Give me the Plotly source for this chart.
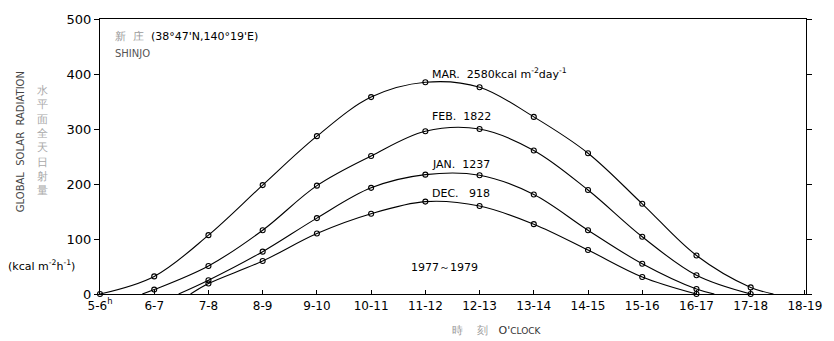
import plotly.graph_objects as go

# ---- data ----
hour_labels = ["5-6<sup>h</sup>", "6-7", "7-8", "8-9", "9-10", "10-11", "11-12",
               "12-13", "13-14", "14-15", "15-16", "16-17", "17-18", "18-19"]
hour_pos = list(range(14))

mar_x = [0, 1, 2, 3, 4, 5, 6, 7, 8, 9, 10, 11, 12]
mar_y = [0, 32, 107, 198, 287, 358, 385, 376, 322, 256, 164, 70, 12]
mar_end_x = [12.42]

feb_x = [1, 2, 3, 4, 5, 6, 7, 8, 9, 10, 11, 12]
feb_y = [8, 51, 116, 197, 251, 296, 300, 261, 189, 104, 34, 0]
feb_start_x = [0.78]

jan_x = [2, 3, 4, 5, 6, 7, 8, 9, 10, 11]
jan_y = [25, 77, 138, 193, 217, 216, 181, 116, 55, 9]
jan_start_x = [1.45]
jan_end_x = [11.33]

dec_x = [2, 3, 4, 5, 6, 7, 8, 9, 10, 11]
dec_y = [19, 60, 110, 146, 168, 160, 127, 80, 31, 0]
dec_start_x = [1.67]

month_labels = ["MAR.  2580kcal m<sup>-2</sup>day<sup>-1</sup>", "FEB.  1822",
                "JAN.  1237", "DEC.   918"]
month_label_y = [401, 323, 235, 183]

FONT = "DejaVu Sans"

fig = go.Figure()

def add_curve(xs, ys, start=None, end=None):
    lx = list(xs)
    ly = list(ys)
    if start:
        lx = start + lx
        ly = [0] + ly
    if end:
        lx = lx + end
        ly = ly + [0]
    fig.add_trace(go.Scatter(x=lx, y=ly, mode="lines",
                             line=dict(color="black", width=1.1, shape="spline", smoothing=1.0),
                             hoverinfo="skip", showlegend=False))
    fig.add_trace(go.Scatter(x=xs, y=ys, mode="markers",
                             marker=dict(symbol="circle-open", size=5, color="black",
                                         line=dict(width=1.1, color="black")),
                             showlegend=False, cliponaxis=False))

add_curve(mar_x, mar_y, None, mar_end_x)
add_curve(feb_x, feb_y, feb_start_x, None)
add_curve(jan_x, jan_y, jan_start_x, jan_end_x)
add_curve(dec_x, dec_y, dec_start_x, None)

ann = []
def txt(x, y, s, size=11, color="black", xanchor="left", xref="x", yref="y", xshift=0, angle=0):
    ann.append(dict(x=x, y=y, text=s, showarrow=False, xanchor=xanchor, yanchor="middle",
                    xref=xref, yref=yref, xshift=xshift, textangle=angle,
                    font=dict(family=FONT, size=size, color=color)))

for lab, yy in zip(month_labels, month_label_y):
    txt(6.09, yy, lab, size=11)

txt(0.24, 468, "<span style='color:#9a9a9a'>新  庄</span>  (38°47'N,140°19'E)", size=11)
txt(0.24, 437, "SHINJO", size=10, color="#555555")
txt(5.69, 48, "1977～1979", size=11)
txt(0, 52, "(kcal m<sup>-2</sup>h<sup>-1</sup>)", size=11, xref="paper", xshift=-94)
txt(0, 276, "GLOBAL  SOLAR  RADIATION", size=10, color="#444444", xanchor="center",
    xref="paper", xshift=-80, angle=-90)
txt(0, 280, "水<br>平<br>面<br>全<br>天<br>日<br>射<br>量", size=11, color="#a8a8a8",
    xanchor="center", xref="paper", xshift=-58)
txt(6.45, -0.133, "<span style='color:#9a9a9a'>時    刻</span>   O'<span style='font-size:9px'>CLOCK</span>",
    size=11, color="#333333", yref="paper")

fig.update_layout(
    width=834, height=341,
    margin=dict(l=100, r=18, t=15, b=47),
    paper_bgcolor="white", plot_bgcolor="white",
    font=dict(family=FONT, size=12, color="black"),
    annotations=ann,
    xaxis=dict(range=[0, 13.02], tickvals=hour_pos, ticktext=hour_labels,
               showgrid=False, zeroline=False, showline=True, linecolor="black",
               linewidth=1.2, mirror=True, ticks="inside", ticklen=4,
               tickcolor="black", tickfont=dict(size=12, family=FONT)),
    yaxis=dict(range=[0, 500], tickvals=[0, 100, 200, 300, 400, 500],
               showgrid=False, zeroline=False, showline=True, linecolor="black",
               linewidth=1.2, mirror="ticks", ticks="outside", ticklen=5,
               tickcolor="black", tickfont=dict(size=13, family=FONT)),
)

fig.write_html("out.html")
